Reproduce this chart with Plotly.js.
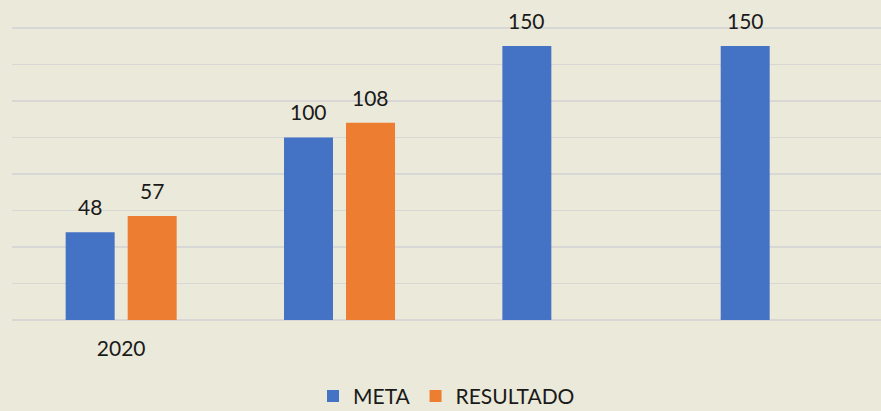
<!DOCTYPE html>
<html>
<head>
<meta charset="utf-8">
<script src="https://cdn.plot.ly/plotly-3.0.1.min.js"></script>
<style>
  html, body { margin: 0; padding: 0; background: #EBE9D9; }
  #chart { width: 881px; height: 411px; }
</style>
</head>
<body>
<div id="chart"></div>
<script>
// Data
const categories = ["2020", "c2", "c3", "c4"];
const tickLabels = ["2020", "", "", ""];
const metaValues = [48, 100, 150, 150];
const resultadoValues = [57, 108, null, null];
const seriesNames = ["META", "RESULTADO"];

const BLUE = "#4472C4";
const ORANGE = "#ED7D31";
const FONT = "Lato, 'Open Sans', sans-serif";
const BARGAP = 0.432;
const BARGROUPGAP = 0.21;

const traces = [
  { type: "bar", name: seriesNames[0], x: categories, y: metaValues,
    marker: { color: BLUE }, hoverinfo: "none" },
  { type: "bar", name: seriesNames[1], x: categories, y: resultadoValues,
    marker: { color: ORANGE }, hoverinfo: "none" }
];

// Data labels placed above each bar (offset within the group follows bargap)
const slot = (1 - BARGAP) / 2;
const annotations = [];
[metaValues, resultadoValues].forEach((vals, s) => {
  const off = (s === 0 ? -1 : 1) * slot / 2;
  vals.forEach((v, i) => {
    if (v === null || v === undefined) return;
    annotations.push({
      x: i + off, y: v, xref: "x", yref: "y",
      text: String(v), showarrow: false,
      xanchor: "center", yanchor: "bottom", yshift: 11,
      font: { family: FONT, size: 21, color: "#1a1a1a" }
    });
  });
});

const layout = {
  width: 881, height: 411,
  margin: { l: 12, r: 0, t: 26.2, b: 91.3, autoexpand: false },
  paper_bgcolor: "#EBE9D9",
  plot_bgcolor: "#EBE9D9",
  barmode: "group",
  bargap: BARGAP,
  bargroupgap: BARGROUPGAP,
  font: { family: FONT, size: 21, color: "#1a1a1a" },
  showlegend: true,
  legend: {
    orientation: "h", xref: "paper", x: 0.5, xanchor: "center",
    yref: "paper", y: -0.19, yanchor: "top",
    font: { family: FONT, size: 21, color: "#1a1a1a" },
    bgcolor: "rgba(0,0,0,0)", traceorder: "normal"
  },
  xaxis: {
    type: "category",
    range: [-0.5, 3.48],
    tickvals: categories,
    ticktext: tickLabels,
    ticks: "",
    ticklabelstandoff: 14,
    showgrid: false, zeroline: false, showline: false,
    tickfont: { family: FONT, size: 21, color: "#1a1a1a" },
    fixedrange: true
  },
  yaxis: {
    range: [0, 161],
    dtick: 20,
    tick0: 0,
    showticklabels: false,
    ticks: "",
    showgrid: true, gridcolor: "#D7D7D5", gridwidth: 1.6,
    zeroline: true, zerolinecolor: "#D7D7D5", zerolinewidth: 1.6,
    showline: false,
    fixedrange: true
  },
  annotations: annotations
};

Plotly.newPlot("chart", traces, layout, { displayModeBar: false, staticPlot: true });
</script>
</body>
</html>
